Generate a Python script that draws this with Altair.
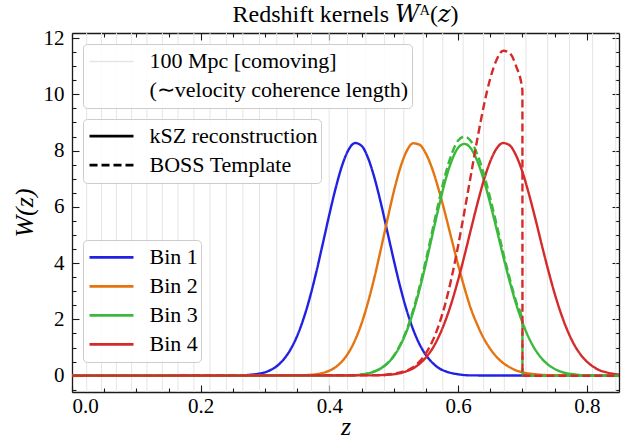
import altair as alt
import pandas as pd

# ---------------- data ----------------
BIN_NAMES = ["Bin 1", "Bin 2", "Bin 3", "Bin 4"]
BIN_COLORS = ["#2121e3", "#e5730f", "#3cb93c", "#d62a2a"]
KINDS = ["kSZ reconstruction", "BOSS Template"]
GRID_LABELS = ["100 Mpc [comoving]", "(\u223cvelocity coherence length)"]

# redshifts of successive 100 Mpc comoving steps (light grey vertical lines)
GRID_Z = [0.0228, 0.0458, 0.0690, 0.0926, 0.1164, 0.1404, 0.1648, 0.1894,
          0.2145, 0.2399, 0.2655, 0.2914, 0.3182, 0.3450, 0.3721, 0.3996,
          0.4282, 0.4567, 0.4856, 0.5156, 0.5457, 0.5761, 0.6078, 0.6396,
          0.6718, 0.7054, 0.7391, 0.7732, 0.8090, 0.8450]

# kSZ reconstruction kernels (solid)
BIN1_Z = [0.0, 0.26, 0.28, 0.29, 0.30, 0.31, 0.32, 0.33, 0.34, 0.35, 0.36, 0.37,
          0.38, 0.39, 0.40, 0.41, 0.42, 0.43, 0.44, 0.45, 0.46, 0.47, 0.48, 0.49,
          0.50, 0.51, 0.52, 0.53, 0.54, 0.55, 0.56, 0.57, 0.58, 0.59, 0.60, 0.62, 0.85]
BIN1_W = [0.0, 0.01, 0.04, 0.07, 0.12, 0.22, 0.37, 0.61, 0.95, 1.42, 2.04, 2.81,
          3.72, 4.72, 5.74, 6.69, 7.49, 8.04, 8.27, 8.17, 7.74, 7.03, 6.13, 5.12,
          4.11, 3.16, 2.33, 1.65, 1.12, 0.73, 0.46, 0.27, 0.16, 0.09, 0.05, 0.01, 0.0]

BIN2_Z = [0.0, 0.35, 0.37, 0.38, 0.39, 0.40, 0.41, 0.42, 0.43, 0.44, 0.45, 0.46,
          0.47, 0.48, 0.49, 0.50, 0.51, 0.52, 0.53, 0.54, 0.55, 0.56, 0.57, 0.58,
          0.59, 0.60, 0.61, 0.62, 0.63, 0.64, 0.65, 0.66, 0.67, 0.68, 0.69, 0.70,
          0.72, 0.74, 0.85]
BIN2_W = [0.0, 0.01, 0.03, 0.05, 0.10, 0.18, 0.31, 0.52, 0.83, 1.27, 1.86, 2.61,
          3.50, 4.50, 5.54, 6.54, 7.38, 7.98, 8.26, 8.21, 7.89, 7.34, 6.60, 5.75,
          4.84, 3.94, 3.11, 2.37, 1.80, 1.32, 0.95, 0.66, 0.45, 0.30, 0.19, 0.12,
          0.05, 0.02, 0.0]

BIN3_Z = [0.0, 0.42, 0.44, 0.45, 0.46, 0.47, 0.48, 0.49, 0.50, 0.51, 0.52, 0.53,
          0.54, 0.55, 0.56, 0.57, 0.58, 0.59, 0.60, 0.61, 0.62, 0.63, 0.64, 0.65,
          0.66, 0.67, 0.68, 0.69, 0.70, 0.71, 0.72, 0.73, 0.74, 0.75, 0.76, 0.77,
          0.78, 0.79, 0.80, 0.82, 0.85]
BIN3_W = [0.0, 0.01, 0.02, 0.04, 0.08, 0.15, 0.26, 0.43, 0.69, 1.07, 1.58, 2.25,
          3.06, 3.99, 5.00, 6.00, 6.92, 7.64, 8.10, 8.24, 8.07, 7.62, 6.95, 6.11,
          5.19, 4.25, 3.36, 2.56, 1.89, 1.34, 0.92, 0.61, 0.39, 0.24, 0.14, 0.08,
          0.05, 0.02, 0.01, 0.0, 0.0]

BIN4_Z = [0.0, 0.46, 0.48, 0.49, 0.50, 0.51, 0.52, 0.53, 0.54, 0.55, 0.56, 0.57,
          0.58, 0.59, 0.60, 0.61, 0.62, 0.63, 0.64, 0.65, 0.66, 0.67, 0.68, 0.69,
          0.70, 0.71, 0.72, 0.73, 0.74, 0.75, 0.76, 0.77, 0.78, 0.79, 0.80, 0.81,
          0.82, 0.83, 0.84, 0.85]
BIN4_W = [0.0, 0.01, 0.02, 0.03, 0.05, 0.09, 0.16, 0.26, 0.42, 0.65, 0.96, 1.39,
          1.94, 2.61, 3.40, 4.28, 5.21, 6.12, 6.95, 7.62, 8.08, 8.27, 8.19, 7.83,
          7.24, 6.46, 5.58, 4.65, 3.75, 2.92, 2.20, 1.60, 1.12, 0.76, 0.50, 0.32,
          0.19, 0.12, 0.07, 0.04]

# BOSS template kernels (dashed), cut at z = 0.7
BOSS3_Z = [0.0, 0.42, 0.44, 0.45, 0.46, 0.47, 0.48, 0.49, 0.50, 0.51, 0.52, 0.53,
           0.54, 0.55, 0.56, 0.57, 0.58, 0.59, 0.60, 0.61, 0.62, 0.63, 0.64, 0.65,
           0.66, 0.67, 0.68, 0.69, 0.6999, 0.70, 0.85]
BOSS3_W = [0.0, 0.01, 0.02, 0.04, 0.08, 0.15, 0.27, 0.44, 0.71, 1.10, 1.63, 2.32,
           3.16, 4.12, 5.16, 6.19, 7.14, 7.88, 8.36, 8.50, 8.33, 7.86, 7.17, 6.30,
           5.35, 4.38, 3.47, 2.64, 1.95, 0.0, 0.0]

BOSS4_Z = [0.0, 0.48, 0.49, 0.50, 0.51, 0.52, 0.53, 0.54, 0.55, 0.56, 0.57, 0.58,
           0.59, 0.60, 0.61, 0.62, 0.63, 0.64, 0.65, 0.66, 0.67, 0.68, 0.69,
           0.6999, 0.70, 0.85]
BOSS4_W = [0.0, 0.02, 0.04, 0.07, 0.12, 0.18, 0.30, 0.50, 0.80, 1.22, 1.80, 2.55,
           3.50, 4.62, 5.86, 7.15, 8.43, 9.60, 10.57, 11.24, 11.55, 11.47, 11.01,
           10.15, 0.0, 0.0]

X_MAJOR = [0.0, 0.2, 0.4, 0.6, 0.8]
X_MINOR = [0.05, 0.10, 0.15, 0.25, 0.30, 0.35, 0.45, 0.50, 0.55, 0.65, 0.70, 0.75]
Y_MAJOR = [0, 2, 4, 6, 8, 10, 12]
Y_MINOR = [-0.5, 0.5, 1.0, 1.5, 2.5, 3.0, 3.5, 4.5, 5.0, 5.5, 6.5, 7.0, 7.5,
           8.5, 9.0, 9.5, 10.5, 11.0, 11.5]

# ---------------- tables ----------------
def series(zs, ws, bin_name, kind, name):
    assert len(zs) == len(ws)
    return [{"z": z, "W": w, "bin": bin_name, "kind": kind, "series": name, "idx": i}
            for i, (z, w) in enumerate(zip(zs, ws))]

solid_rows = (series(BIN1_Z, BIN1_W, "Bin 1", KINDS[0], "s1")
              + series(BIN2_Z, BIN2_W, "Bin 2", KINDS[0], "s2")
              + series(BIN3_Z, BIN3_W, "Bin 3", KINDS[0], "s3")
              + series(BIN4_Z, BIN4_W, "Bin 4", KINDS[0], "s4"))
dashed_rows = (series(BOSS3_Z, BOSS3_W, "Bin 3", KINDS[1], "d3")
               + series(BOSS4_Z, BOSS4_W, "Bin 4", KINDS[1], "d4"))
solid_df = pd.DataFrame(solid_rows)
dashed_df = pd.DataFrame(dashed_rows)
grid_df = pd.DataFrame({"z": GRID_Z, "label": [GRID_LABELS[0]] * len(GRID_Z)})
anchor_df = pd.DataFrame({"z": [BIN1_Z[0]], "W": [BIN1_W[0]]})

# ---------------- styling ----------------
W, H = 547, 359
FONT = "Liberation Serif"
xs = alt.Scale(domain=[0, 0.85], nice=False, zero=False)
ys = alt.Scale(domain=[-0.58, 12.18], nice=False, zero=False)

# long horizontal line symbol: custom path scaled by sqrt(size)/2
legend_common = dict(
    title=None, orient="none", symbolType="M-3,0L3,0", symbolSize=215,
    symbolOffset=14.5, labelFont=FONT, labelFontSize=22, labelColor="black",
    labelOffset=27, padding=3, rowPadding=0, strokeColor="#cccccc",
    cornerRadius=4, fillColor="rgba(255,255,255,0.85)", labelLimit=400,
)

bin_legend = alt.Legend(legendX=11, legendY=207, symbolStrokeWidth=2.8,
                        clipHeight=28.7, **legend_common)
dash_legend = alt.Legend(legendX=11, legendY=86, symbolStrokeWidth=2.8,
                         symbolStrokeColor="black", clipHeight=28.3, **legend_common)
grid_legend = alt.Legend(legendX=11, legendY=11, symbolStrokeWidth=1.5,
                         clipHeight=28.8, **legend_common)

bin_scale = alt.Scale(domain=BIN_NAMES, range=BIN_COLORS)
dash_scale = alt.Scale(domain=KINDS, range=[[1, 0], [8, 4]])

grid = alt.Chart(grid_df).mark_rule(strokeWidth=1).encode(
    x=alt.X("z:Q", scale=xs, axis=None),
    color=alt.Color("label:N", scale=alt.Scale(domain=GRID_LABELS,
                    range=["#e5e5e5", "rgba(255,255,255,0)"]), legend=grid_legend),
)

def curves(df):
    return alt.Chart(df).mark_line(strokeWidth=2.4, interpolate="monotone").encode(
        x=alt.X("z:Q", scale=xs, axis=None),
        y=alt.Y("W:Q", scale=ys, axis=None),
        color=alt.Color("bin:N", scale=bin_scale, legend=bin_legend),
        strokeDash=alt.StrokeDash("kind:N", scale=dash_scale, legend=dash_legend),
        detail="series:N",
        order="idx:Q",
    )

lines = alt.layer(curves(solid_df), curves(dashed_df))

def tick_axis(orient, values, size, domain=False):
    off = -H if orient in ("top", "bottom") else -W
    return alt.Axis(orient=orient, offset=off, values=values, ticks=True,
                    tickSize=size, tickColor="#1a1a1a", tickWidth=1.1,
                    labels=False, domain=domain, domainColor="#1a1a1a",
                    domainWidth=1.3, grid=False, title=None)

def axis_layer(xaxis, yaxis):
    return alt.Chart(anchor_df).mark_point(opacity=0).encode(
        x=alt.X("z:Q", scale=xs, axis=xaxis),
        y=alt.Y("W:Q", scale=ys, axis=yaxis),
    )

main_x = alt.Axis(orient="bottom", title="z", values=X_MAJOR, format=".1f",
                  ticks=False, grid=False, domain=True, domainColor="#1a1a1a",
                  domainWidth=1.3, labelFont=FONT, labelFontSize=21,
                  labelColor="black", labelPadding=3, titleFont=FONT,
                  titleFontSize=26, titleFontStyle="italic", titleFontWeight="normal",
                  titleColor="black", titlePadding=-3)
main_y = alt.Axis(orient="left", title="W(z)", values=Y_MAJOR, format="d",
                  ticks=False, grid=False, domain=True, domainColor="#1a1a1a",
                  domainWidth=1.3, labelFont=FONT, labelFontSize=21,
                  labelColor="black", labelPadding=8, titleFont=FONT,
                  titleFontSize=26, titleFontStyle="italic", titleFontWeight="normal",
                  titleColor="black", titlePadding=6)

axes = [
    axis_layer(main_x, main_y),
    axis_layer(tick_axis("top", X_MAJOR, 7), tick_axis("right", Y_MAJOR, 7)),
    axis_layer(tick_axis("top", X_MINOR, 4), tick_axis("right", Y_MINOR, 4)),
    axis_layer(tick_axis("bottom", X_MAJOR, 7, True), tick_axis("left", Y_MAJOR, 7, True)),
    axis_layer(tick_axis("bottom", X_MINOR, 4), tick_axis("left", Y_MINOR, 4)),
]

chart = alt.layer(grid, lines, *axes).resolve_scale(
    color="independent"
).resolve_axis(
    x="independent", y="independent"
).properties(
    width=W, height=H,
    title=alt.TitleParams("Redshift kernels \U0001D44A\u1D2C(\U0001D467)",
                          font="Liberation Serif, DejaVu Serif",
                          fontSize=24, fontWeight="normal", color="black",
                          anchor="middle", frame="group", baseline="alphabetic",
                          offset=-18.5),
    autosize=alt.AutoSizeParams(type="none"),
    padding={"left": 72, "top": 33, "right": 24, "bottom": 55},
).configure_view(stroke=None).configure(background="white")

chart.save("out.html", embed_options={"renderer": "svg", "actions": False})
